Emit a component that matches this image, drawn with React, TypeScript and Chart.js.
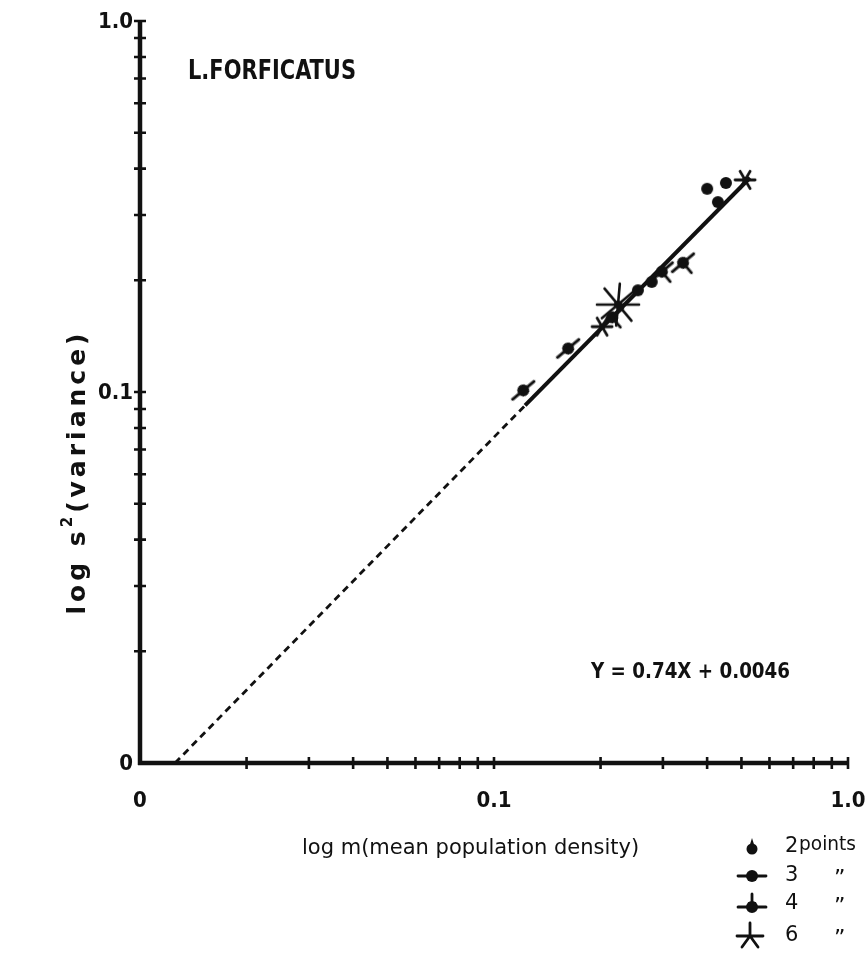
import { useEffect, useRef } from "react";
import { Chart, registerables } from "chart.js";

Chart.register(...registerables);

// Mean population density (m) and variance (s²) per sample, grouped by how
// many coincident samples each symbol stands for.
const densityTwo = [0.255, 0.279, 0.429, 0.4, 0.452];
const varianceTwo = [0.188, 0.198, 0.325, 0.353, 0.366];
const densityThree = [0.121, 0.162];
const varianceThree = [0.101, 0.131];
const densityFour = [0.2155, 0.298, 0.342];
const varianceFour = [0.159, 0.211, 0.223];
const densitySix = [0.202, 0.512];
const varianceSix = [0.15, 0.373];
const densitySixLarge = [0.224];
const varianceSixLarge = [0.172];

// Fitted line: extrapolated (dashed) part, then the fitted (solid) part.
const fitDashedX = [0.01256, 0.1224];
const fitDashedY = [0.01, 0.092];
const fitSolidX = [0.1224, 0.5286];
const fitSolidY = [0.092, 0.378];

// Axis ticks and labels (same decades on both axes).
const minorTicks = [0.02, 0.03, 0.04, 0.05, 0.06, 0.07, 0.08, 0.09, 0.1, 0.2, 0.3, 0.4, 0.5, 0.6, 0.7, 0.8, 0.9, 1.0];
const labelValues = [0.01, 0.1, 1.0];
const labelTexts = ["0", "0.1", "1.0"];

const legendCounts = ["2", "3", "4", "6"];

const INK = "#111";
const NARROW = "'DejaVu Sans Condensed', 'Liberation Sans Narrow', 'DejaVu Sans', sans-serif";
const WIDE = "'DejaVu Sans', sans-serif";

const pts = (xs: number[], ys: number[]) => xs.map((x, i) => ({ x, y: ys[i] }));

function symbol(size: number, draw: (g: CanvasRenderingContext2D) => void) {
  const c = document.createElement("canvas");
  c.width = size;
  c.height = size;
  const g = c.getContext("2d")!;
  g.translate(size / 2, size / 2);
  g.fillStyle = INK;
  g.strokeStyle = INK;
  g.lineCap = "round";
  draw(g);
  return c;
}

function dot(g: CanvasRenderingContext2D, r: number) {
  g.beginPath();
  g.arc(0, 0, r, 0, Math.PI * 2);
  g.fill();
}

function rays(g: CanvasRenderingContext2D, len: number, angles: number[], w: number) {
  g.lineWidth = w;
  for (const a of angles) {
    const t = (a * Math.PI) / 180;
    g.beginPath();
    g.moveTo(-Math.cos(t) * len, -Math.sin(t) * len);
    g.lineTo(Math.cos(t) * len, Math.sin(t) * len);
    g.stroke();
  }
}

function makeSymbols() {
  const two = symbol(16, (g) => dot(g, 6));
  const three = symbol(36, (g) => {
    dot(g, 6);
    g.lineWidth = 2.8;
    g.beginPath();
    g.moveTo(-14, 0);
    g.lineTo(14, 0);
    g.stroke();
  });
  const four = symbol(36, (g) => {
    dot(g, 6);
    g.lineWidth = 2.8;
    g.beginPath();
    g.moveTo(-14, 0);
    g.lineTo(14, 0);
    g.moveTo(0, 0);
    g.lineTo(0, 13);
    g.stroke();
  });
  const six = symbol(28, (g) => {
    rays(g, 10, [0, 60, 120], 2.8);
    dot(g, 3);
  });
  const sixLarge = symbol(50, (g) => {
    rays(g, 21, [0, 50, 95, 140], 2.6);
    dot(g, 4);
  });
  return { two, three, four, six, sixLarge };
}

export default function App() {
  const ref = useRef<HTMLCanvasElement>(null);

  useEffect(() => {
    document.body.style.margin = "0";
    const canvas = ref.current!;
    const sym = makeSymbols();

    const paperAxes = {
      id: "paperAxes",
      afterDraw(chart: any) {
        const { ctx } = chart;
        const xs = chart.scales.x;
        const ys = chart.scales.y;
        const x0 = xs.getPixelForValue(0.01);
        const x1 = xs.getPixelForValue(1);
        const y0 = ys.getPixelForValue(0.01);
        const y1 = ys.getPixelForValue(1);
        ctx.save();
        ctx.strokeStyle = INK;
        ctx.fillStyle = INK;

        // axis lines
        ctx.lineWidth = 4.5;
        ctx.beginPath();
        ctx.moveTo(x0, y0 + 2);
        ctx.lineTo(x0, y1 - 1);
        ctx.moveTo(x0 - 2, y0);
        ctx.lineTo(x1, y0);
        ctx.stroke();

        // ticks crossing the axes
        ctx.lineWidth = 2.6;
        ctx.beginPath();
        for (const v of minorTicks) {
          const py = ys.getPixelForValue(v);
          ctx.moveTo(x0 - 6, py);
          ctx.lineTo(x0 + 6, py);
          const px = xs.getPixelForValue(v);
          ctx.moveTo(px, y0 - 6);
          ctx.lineTo(px, y0 + 6);
        }
        ctx.stroke();

        // tick labels
        ctx.font = `bold 22px ${NARROW}`;
        ctx.textBaseline = "middle";
        labelValues.forEach((v, i) => {
          ctx.textAlign = "right";
          ctx.fillText(labelTexts[i], x0 - 7, ys.getPixelForValue(v) + 1);
          ctx.textAlign = "center";
          ctx.fillText(labelTexts[i], xs.getPixelForValue(v), y0 + 38);
        });

        // species name and fitted equation
        ctx.textAlign = "left";
        ctx.textBaseline = "alphabetic";
        ctx.font = `bold 26px ${NARROW}`;
        ctx.fillText("L.FORFICATUS", 188, 79, 168);
        ctx.font = `bold 22px ${NARROW}`;
        ctx.fillText("Y = 0.74X + 0.0046", 591, 678, 199);

        // x axis title
        ctx.font = `21px ${WIDE}`;
        ctx.fillText("log m(mean population density)", 302, 854, 350);

        // y axis title (rotated)
        ctx.save();
        ctx.translate(76, 472);
        ctx.rotate(-Math.PI / 2);
        ctx.letterSpacing = "4px";
        const a = "log s";
        const b = "(variance)";
        ctx.font = `bold 25px ${WIDE}`;
        const wa = ctx.measureText(a).width;
        const wb = ctx.measureText(b).width;
        ctx.font = `bold 15px ${WIDE}`;
        const ws = ctx.measureText("2").width;
        const total = wa + ws + wb;
        let cx = -total / 2;
        ctx.textAlign = "left";
        ctx.font = `bold 25px ${WIDE}`;
        ctx.fillText(a, cx, 9);
        cx += wa;
        ctx.font = `bold 15px ${WIDE}`;
        ctx.fillText("2", cx, -4);
        cx += ws;
        ctx.font = `bold 25px ${WIDE}`;
        ctx.fillText(b, cx, 9);
        ctx.restore();

        // symbol key
        const rows = [847, 876, 904, 936];
        const keyX = 752;
        ctx.textBaseline = "middle";
        rows.forEach((ry, i) => {
          ctx.textAlign = "left";
          ctx.font = `21px ${WIDE}`;
          ctx.fillText(legendCounts[i], 785, ry);
          if (i === 0) {
            ctx.font = `20px ${WIDE}`;
            ctx.fillText("points", 799, ry - 2, 57);
          } else {
            ctx.font = `22px ${WIDE}`;
            ctx.fillText("\u201D", 834, ry + 3);
          }
        });
        // 2 points: teardrop dot
        ctx.beginPath();
        ctx.arc(keyX, rows[0] + 2, 5.5, 0, Math.PI * 2);
        ctx.fill();
        ctx.beginPath();
        ctx.moveTo(keyX - 2.5, rows[0] - 1);
        ctx.lineTo(keyX, rows[0] - 9);
        ctx.lineTo(keyX + 2.5, rows[0] - 1);
        ctx.fill();
        ctx.drawImage(sym.three, keyX - 18, rows[1] - 18);
        ctx.save();
        ctx.translate(keyX, rows[2] + 3);
        ctx.rotate(Math.PI);
        ctx.drawImage(sym.four, -18, -18);
        ctx.restore();
        ctx.save();
        ctx.translate(keyX - 2, rows[3]);
        ctx.lineWidth = 2.8;
        ctx.lineCap = "round";
        ctx.beginPath();
        ctx.moveTo(-13, 0);
        ctx.lineTo(13, 0);
        ctx.moveTo(0, 0);
        ctx.lineTo(0, -13);
        ctx.moveTo(0, 0);
        ctx.lineTo(-8, 11);
        ctx.moveTo(0, 0);
        ctx.lineTo(8, 11);
        ctx.stroke();
        ctx.restore();

        ctx.restore();
      },
    };

    const chart = new Chart(canvas, {
      type: "scatter",
      data: {
        datasets: [
          {
            data: pts(fitDashedX, fitDashedY),
            showLine: true,
            borderColor: INK,
            borderWidth: 2.8,
            borderDash: [7, 5],
            pointRadius: 0,
          },
          {
            data: pts(fitSolidX, fitSolidY),
            showLine: true,
            borderColor: INK,
            borderWidth: 4,
            pointRadius: 0,
          },
          { data: pts(densityTwo, varianceTwo), pointStyle: sym.two, pointRadius: 5 },
          { data: pts(densityThree, varianceThree), pointStyle: sym.three, pointRadius: 5, pointRotation: -40 },
          { data: pts(densityFour, varianceFour), pointStyle: sym.four, pointRadius: 5, pointRotation: -40 },
          { data: pts(densitySix, varianceSix), pointStyle: sym.six, pointRadius: 5 },
          { data: pts(densitySixLarge, varianceSixLarge), pointStyle: sym.sixLarge, pointRadius: 5 },
        ] as any,
      },
      options: {
        animation: false,
        responsive: false,
        events: [],
        layout: { padding: { left: 140, right: 18, top: 21, bottom: 200 } },
        plugins: { legend: { display: false }, tooltip: { enabled: false } },
        scales: {
          x: { type: "logarithmic", min: 0.01, max: 1, display: false },
          y: { type: "logarithmic", min: 0.01, max: 1, display: false },
        },
      },
      plugins: [paperAxes],
    });

    return () => chart.destroy();
  }, []);

  return <canvas ref={ref} width={866} height={963} style={{ display: "block" }} />;
}
